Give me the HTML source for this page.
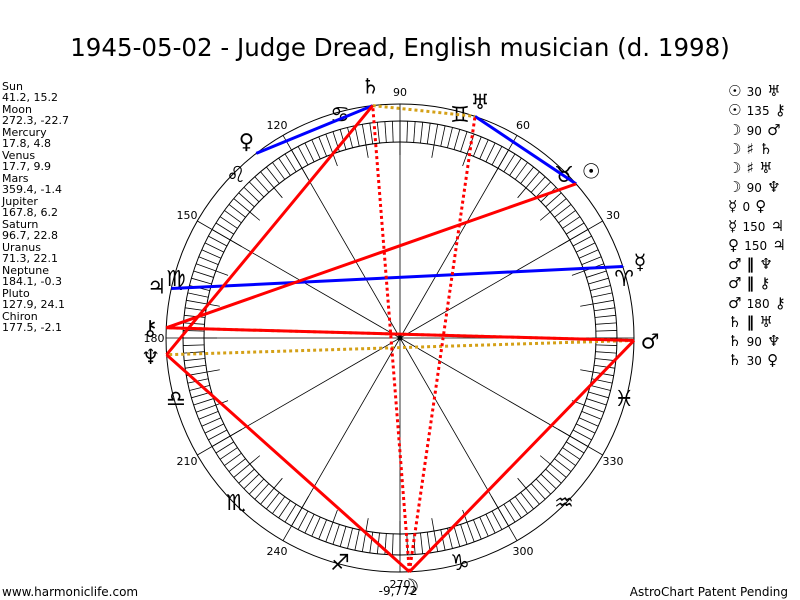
<!DOCTYPE html>
<html><head><meta charset="utf-8"><style>
body{margin:0;background:#fff;width:800px;height:600px;overflow:hidden;font-family:"Liberation Sans","DejaVu Sans",sans-serif}
svg{position:absolute;left:0;top:0}
</style></head><body>
<svg id="s" width="800" height="600" xmlns="http://www.w3.org/2000/svg">
<text x="400" y="56" font-size="24.5" text-anchor="middle" font-family="DejaVu Sans,Liberation Sans,sans-serif">1945-05-02 - Judge Dread, English musician (d. 1998)</text>
<g font-size="11" font-family="DejaVu Sans,Liberation Sans,sans-serif">
<text x="2" y="90">Sun</text><text x="2" y="101">41.2, 15.2</text>
<text x="2" y="113">Moon</text><text x="2" y="124">272.3, -22.7</text>
<text x="2" y="136">Mercury</text><text x="2" y="147">17.8, 4.8</text>
<text x="2" y="159">Venus</text><text x="2" y="170">17.7, 9.9</text>
<text x="2" y="182">Mars</text><text x="2" y="193">359.4, -1.4</text>
<text x="2" y="205">Jupiter</text><text x="2" y="216">167.8, 6.2</text>
<text x="2" y="228">Saturn</text><text x="2" y="239">96.7, 22.8</text>
<text x="2" y="251">Uranus</text><text x="2" y="262">71.3, 22.1</text>
<text x="2" y="274">Neptune</text><text x="2" y="285">184.1, -0.3</text>
<text x="2" y="297">Pluto</text><text x="2" y="308">127.9, 24.1</text>
<text x="2" y="320">Chiron</text><text x="2" y="331">177.5, -2.1</text>
<text x="2" y="596" font-size="12">www.harmoniclife.com</text>
<text x="788" y="596" font-size="12" text-anchor="end">AstroChart Patent Pending</text>
<text x="398" y="595" font-size="12" text-anchor="middle">-9,772</text>
</g>
<g font-size="15" font-weight="bold" font-family="DejaVu Sans,sans-serif">
<text x="728" y="96">☉ <tspan font-size="12" font-weight="normal">30</tspan> ♅</text>
<text x="728" y="115">☉ <tspan font-size="12" font-weight="normal">135</tspan> ⚷</text>
<text x="728" y="135">☽ <tspan font-size="12" font-weight="normal">90</tspan> ♂</text>
<text x="728" y="154">☽ ♯  ♄</text>
<text x="728" y="173">☽ ♯  ♅</text>
<text x="728" y="192">☽ <tspan font-size="12" font-weight="normal">90</tspan> ♆</text>
<text x="728" y="211">☿ <tspan font-size="12" font-weight="normal">0</tspan> ♀</text>
<text x="728" y="231">☿ <tspan font-size="12" font-weight="normal">150</tspan> ♃</text>
<text x="728" y="250">♀ <tspan font-size="12" font-weight="normal">150</tspan> ♃</text>
<text x="728" y="269">♂ ‖  ♆</text>
<text x="728" y="288">♂ ‖  ⚷</text>
<text x="728" y="308">♂ <tspan font-size="12" font-weight="normal">180</tspan> ⚷</text>
<text x="728" y="327">♄ ‖  ♅</text>
<text x="728" y="346">♄ <tspan font-size="12" font-weight="normal">90</tspan> ♆</text>
<text x="728" y="365">♄ <tspan font-size="12" font-weight="normal">30</tspan> ♀</text>
</g>
<g id="chart"></g>
</svg>
<script>
var cx=400,cy=338,R=234;
function P(a,r){var t=a*Math.PI/180;return [cx+r*Math.cos(t),cy-r*Math.sin(t)];}
var h='';
h+='<circle cx="400" cy="338" r="234" fill="none" stroke="#000" stroke-width="1"/>';
h+='<circle cx="400" cy="338" r="217" fill="none" stroke="#000" stroke-width="1"/>';
h+='<circle cx="400" cy="338" r="196" fill="none" stroke="#000" stroke-width="1"/>';
for(var a=0;a<360;a+=2){var r1=(a%10==0)?183:196;var p=P(a,r1),q=P(a,217);h+='<line x1="'+p[0]+'" y1="'+p[1]+'" x2="'+q[0]+'" y2="'+q[1]+'" stroke="#000" stroke-width="0.8"/>';}
for(var a=0;a<360;a+=30){var q=P(a,R);h+='<line x1="400" y1="338" x2="'+q[0]+'" y2="'+q[1]+'" stroke="#000" stroke-width="0.8"/>';}
for(var a=30;a<360;a+=30){var q=P(a,246);h+='<text x="'+q[0]+'" y="'+(q[1]+4)+'" font-size="11" text-anchor="middle" font-family="DejaVu Sans,sans-serif">'+a+'</text>';}
var signs='♈♉♊♋♌♍♎♏♐♑♒♓';
for(var i=0;i<12;i++){var q=P(15+30*i,232);h+='<text x="'+q[0]+'" y="'+(q[1]+8)+'" font-size="22" font-weight="bold" text-anchor="middle" font-family="DejaVu Sans,sans-serif">'+signs[i]+'</text>';}
var pl={Su:41.2,Mo:272.3,Me:17.8,Ve:17.7,Ma:359.4,Ju:167.8,Sa:96.7,Ur:71.3,Ne:184.1,Pl:127.9,Ch:177.5};
function L(a,b,c,d){var p=P(pl[a],R),q=P(pl[b],R);h+='<line x1="'+p[0]+'" y1="'+p[1]+'" x2="'+q[0]+'" y2="'+q[1]+'" stroke="'+c+'" stroke-width="3"'+(d?' stroke-dasharray="3,3"':'')+'/>';}
L('Su','Ur','#00f');L('Sa','Pl','#00f');L('Me','Ju','#00f');L('Me','Ve','#00f');
L('Ma','Ne','#d4a017',1);L('Ma','Ch','#d4a017',1);L('Sa','Ur','#d4a017',1);
L('Mo','Sa','#f00',1);L('Mo','Ur','#f00',1);
L('Su','Ch','#f00');L('Mo','Ma','#f00');L('Mo','Ne','#f00');L('Ma','Ch','#f00');L('Sa','Ne','#f00');
h+='<circle cx="400" cy="338" r="2.5" fill="#000"/>';
var g=[['♄',96.7,254],['♅',71.3,250],['☉',41.2,254],['☿',17.8,252],['♂',359.4,250],['♃',167.8,249],['⚷',177.5,250],['♆',184.1,250],['♀',127.9,250],['☽',272.3,248]];
for(var i=0;i<g.length;i++){var q=P(g[i][1],g[i][2]);h+='<text x="'+q[0]+'" y="'+(q[1]+8)+'" font-size="21" font-weight="bold" text-anchor="middle" font-family="DejaVu Sans,sans-serif">'+g[i][0]+'</text>';}
document.getElementById('chart').innerHTML=h;
</script>
</body></html>
